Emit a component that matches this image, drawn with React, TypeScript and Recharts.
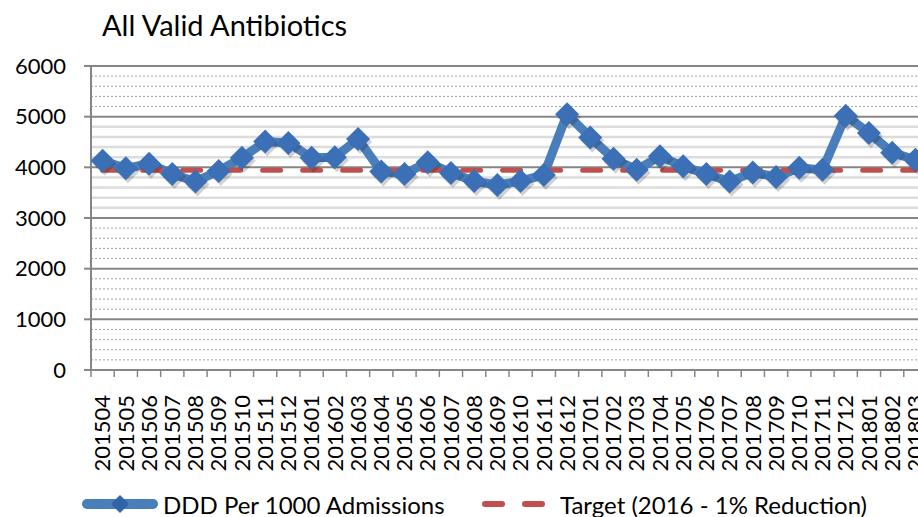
import React from "react";
import {
  LineChart,
  Line,
  XAxis,
  YAxis,
  CartesianGrid,
  ReferenceLine,
  Legend,
} from "recharts";

const months = [
  "201504", "201505", "201506", "201507", "201508", "201509", "201510", "201511", "201512",
  "201601", "201602", "201603", "201604", "201605", "201606", "201607", "201608", "201609",
  "201610", "201611", "201612", "201701", "201702", "201703", "201704", "201705", "201706",
  "201707", "201708", "201709", "201710", "201711", "201712", "201801", "201802", "201803",
];

const dddPer1000 = [
  4130, 3980, 4070, 3870, 3720, 3930, 4190, 4510, 4480,
  4190, 4200, 4560, 3920, 3870, 4100, 3890, 3730, 3650,
  3730, 3850, 5050, 4590, 4170, 3950, 4220, 4020, 3870,
  3720, 3900, 3810, 3990, 3950, 5020, 4680, 4290, 4150,
];

const TARGET = 3940;

const yTicks = [0, 1000, 2000, 3000, 4000, 5000, 6000];
const minorTicks = [
  200, 400, 600, 800, 1200, 1400, 1600, 1800, 2200, 2400, 2600, 2800,
  3200, 3400, 3600, 3800, 4200, 4400, 4600, 4800, 5200, 5400, 5600, 5800,
];

const data = months.map((m, i) => ({
  month: m,
  ddd: dddPer1000[i],
  target: TARGET,
}));

const FONT = "Lato, 'Open Sans', sans-serif";
const BLUE = "#4A7EBB";
const DIAMOND = "#3B70B6";
const RED = "#C0504D";
const AXIS = "#868686";

const CHART_W = 940;
const PLOT_LEFT = 91;
const PLOT_RIGHT = 927;
const BAND = (PLOT_RIGHT - PLOT_LEFT) / months.length;

const Diamond = (props: any) => {
  const { cx, cy } = props;
  if (cx == null || cy == null) return null;
  const r = 12;
  const pts = (dx: number, dy: number) =>
    `${cx + dx},${cy + dy - r} ${cx + dx + r},${cy + dy} ${cx + dx},${cy + dy + r} ${cx + dx - r},${cy + dy}`;
  return (
    <g>
      <polygon points={pts(2, 3)} fill="#000" opacity={0.18} />
      <polygon points={pts(0, 0)} fill={DIAMOND} />
    </g>
  );
};

const MonthTick = (props: any) => {
  const { x, y, payload } = props;
  const bx = x - BAND / 2;
  return (
    <g>
      <line x1={bx} y1={y} x2={bx} y2={y + 7} stroke={AXIS} strokeWidth={1.5} />
      <text
        x={x}
        y={y + 25}
        transform={`rotate(-90, ${x}, ${y + 25})`}
        textAnchor="end"
        dy="0.35em"
        fontFamily={FONT}
        fontSize={22}
        fill="#000"
      >
        {payload.value}
      </text>
    </g>
  );
};

const CustomLegend = () => (
  <svg width={CHART_W} height={40} style={{ display: "block" }}>
    <line x1={87} y1={27} x2={153} y2={27} stroke={BLUE} strokeWidth={10} strokeLinecap="round" />
    <polygon points="120,18 129,27 120,36 111,27" fill="#2F64AA" />
    <text x={163} y={37} fontFamily={FONT} fontSize={24} fill="#000">
      DDD Per 1000 Admissions
    </text>
    <line x1={485} y1={27} x2={502} y2={27} stroke={RED} strokeWidth={6} strokeLinecap="round" />
    <line x1={525} y1={27} x2={542} y2={27} stroke={RED} strokeWidth={6} strokeLinecap="round" />
    <text x={560} y={37} fontFamily={FONT} fontSize={24} fill="#000">
      Target (2016 - 1% Reduction)
    </text>
  </svg>
);

const App = () => {
  return (
    <div
      style={{
        position: "absolute",
        left: 0,
        top: 0,
        width: 918,
        height: 517,
        overflow: "hidden",
        background: "#fff",
      }}
    >
      <div
        style={{
          position: "absolute",
          left: 102,
          top: 7,
          fontFamily: FONT,
          fontSize: 29,
          color: "#000",
          whiteSpace: "nowrap",
        }}
      >
        All Valid Antibiotics
      </div>
      <LineChart
        width={CHART_W}
        height={517}
        data={data}
        margin={{ top: 66, right: CHART_W - PLOT_RIGHT, left: 0, bottom: 0 }}
      >
        <CartesianGrid
          vertical={false}
          horizontal
          stroke={AXIS}
          strokeWidth={2}
        />
        {minorTicks.map((v) =>
          v > 3000 && v < 5000 ? (
            <ReferenceLine key={v} y={v} stroke="#DCDCDC" strokeWidth={2.5} />
          ) : (
            <ReferenceLine key={v} y={v} stroke="#A0A0A0" strokeWidth={1} strokeDasharray="2 2" />
          )
        )}
        <XAxis
          dataKey="month"
          interval={0}
          height={107}
          padding={{ left: BAND / 2, right: BAND / 2 }}
          tickSize={0}
          tickMargin={0}
          tickLine={false}
          axisLine={{ stroke: AXIS, strokeWidth: 2 }}
          tick={<MonthTick />}
        />
        <YAxis
          width={PLOT_LEFT}
          domain={[0, 6000]}
          ticks={yTicks}
          interval={0}
          tickSize={7}
          tickMargin={18}
          axisLine={{ stroke: AXIS, strokeWidth: 2 }}
          tickLine={{ stroke: AXIS, strokeWidth: 2 }}
          tick={{ fontFamily: FONT, fontSize: 22, fill: "#000" }}
        />
        <Legend verticalAlign="bottom" height={40} content={<CustomLegend />} wrapperStyle={{ left: 0, bottom: 0 }} />
        <Line
          dataKey="ddd"
          name="DDD Per 1000 Admissions"
          stroke={BLUE}
          strokeWidth={9}
          dot={<Diamond />}
          activeDot={false}
          isAnimationActive={false}
        />
        <Line
          dataKey="target"
          name="Target (2016 - 1% Reduction)"
          stroke={RED}
          strokeWidth={5}
          strokeDasharray="18 22"
          strokeLinecap="round"
          dot={false}
          activeDot={false}
          isAnimationActive={false}
        />
      </LineChart>
    </div>
  );
};

export default App;
